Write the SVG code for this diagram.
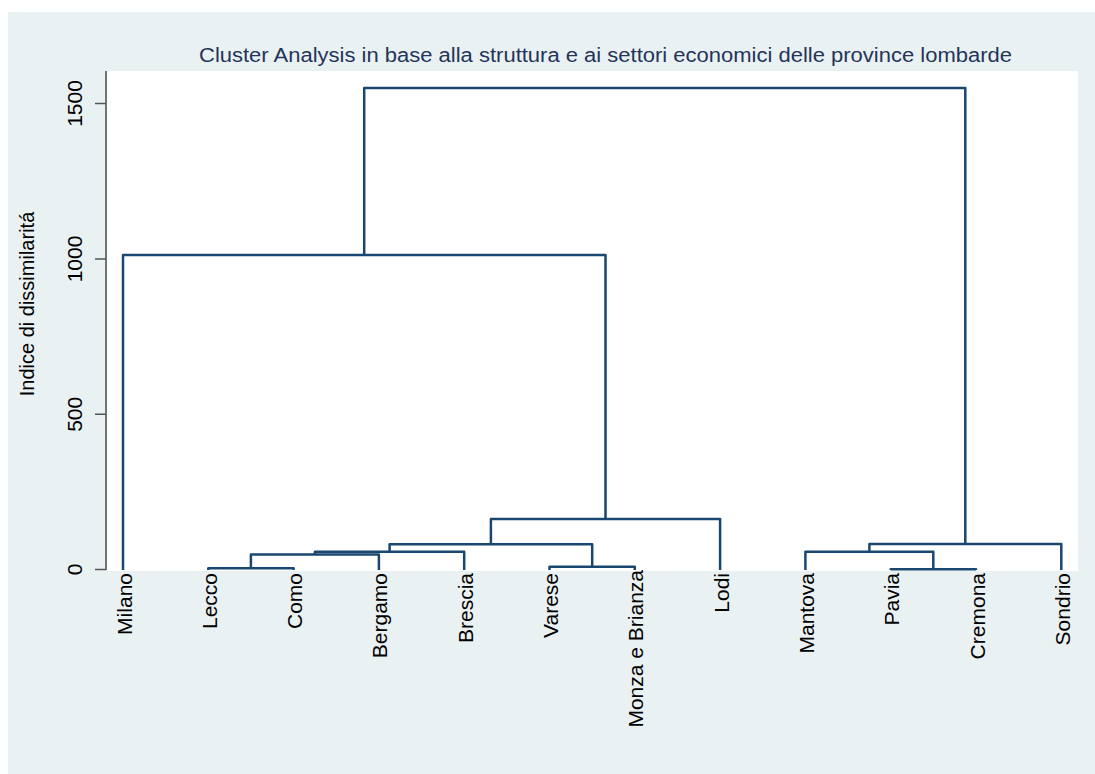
<svg xmlns="http://www.w3.org/2000/svg" width="1095" height="774" viewBox="0 0 1095 774">
<style>
.lbl{font-family:"Liberation Sans",Arial,sans-serif;font-size:21px;fill:#000;text-anchor:end}
.tick{font-family:"Liberation Sans",Arial,sans-serif;font-size:21px;fill:#000;text-anchor:middle}
.dend{fill:none;stroke:#1a476f;stroke-width:2.5;stroke-linejoin:round}
.axis{stroke:#555;stroke-width:1.6;fill:none}
</style>
<rect x="0" y="0" width="1095" height="774" fill="#fff"/>
<rect x="8" y="12" width="1087" height="762" fill="#eaf1f3"/>
<rect x="107" y="71" width="971" height="500" fill="#fff"/>
<g id="title">
<text x="605.5" y="62" font-family="Liberation Sans, Arial, sans-serif" font-size="20" fill="#243559" text-anchor="middle" textLength="813" lengthAdjust="spacingAndGlyphs">Cluster Analysis in base alla struttura e ai settori economici delle province lombarde</text>
</g>
<g id="yaxis">
<path class="axis" d="M106 71 V570 M95 569.5 H106 M95 414.3 H106 M95 259 H106 M95 103.5 H106"/>
<text class="tick" transform="translate(82,569.5) rotate(-90)">0</text>
<text class="tick" transform="translate(82,414.3) rotate(-90)">500</text>
<text class="tick" transform="translate(82,259) rotate(-90)">1000</text>
<text class="tick" transform="translate(82,103.5) rotate(-90)">1500</text>
<text transform="translate(34,304) rotate(-90)" font-family="Liberation Sans, Arial, sans-serif" font-size="20" fill="#000" text-anchor="middle">Indice di dissimilaritá</text>
</g>
<g id="connectors">
<path class="dend" d="M208.3 570 V568.3 H293.6 V570"/>
<path class="dend" d="M250.9 568.3 V554.5 H378.9 V570"/>
<path class="dend" d="M314.9 554.5 V551.7 H464.2 V570"/>
<path class="dend" d="M549.5 570 V566.7 H634.8 V570"/>
<path class="dend" d="M389.6 551.7 V544.3 H592.2 V566.7"/>
<path class="dend" d="M490.9 544.3 V519 H720.1 V570"/>
<path class="dend" d="M123 570 V255 H605.5 V519"/>
<path class="dend" d="M890.7 570 V569.3 H976 V570"/>
<path class="dend" d="M805.4 570 V551.7 H933.3 V569.3"/>
<path class="dend" d="M869.4 551.7 V544 H1061.3 V570"/>
<path class="dend" d="M364.2 255 V88 H965.3 V544"/>
</g>
<g id="leaf-milano"><text class="lbl" transform="translate(131.5,573) rotate(-90)">Milano</text></g>
<g id="leaf-lecco"><text class="lbl" transform="translate(216.8,573) rotate(-90)">Lecco</text></g>
<g id="leaf-como"><text class="lbl" transform="translate(302.1,573) rotate(-90)">Como</text></g>
<g id="leaf-bergamo"><text class="lbl" transform="translate(387.4,573) rotate(-90)">Bergamo</text></g>
<g id="leaf-brescia"><text class="lbl" transform="translate(472.7,573) rotate(-90)">Brescia</text></g>
<g id="leaf-varese"><text class="lbl" transform="translate(558,573) rotate(-90)">Varese</text></g>
<g id="leaf-monza"><text class="lbl" transform="translate(643.3,570) rotate(-90)">Monza e Brianza</text></g>
<g id="leaf-lodi"><text class="lbl" transform="translate(728.6,573) rotate(-90)">Lodi</text></g>
<g id="leaf-mantova"><text class="lbl" transform="translate(813.9,573) rotate(-90)">Mantova</text></g>
<g id="leaf-pavia"><text class="lbl" transform="translate(899.2,573) rotate(-90)">Pavia</text></g>
<g id="leaf-cremona"><text class="lbl" transform="translate(984.5,573) rotate(-90)">Cremona</text></g>
<g id="leaf-sondrio"><text class="lbl" transform="translate(1069.8,573) rotate(-90)">Sondrio</text></g>
</svg>
